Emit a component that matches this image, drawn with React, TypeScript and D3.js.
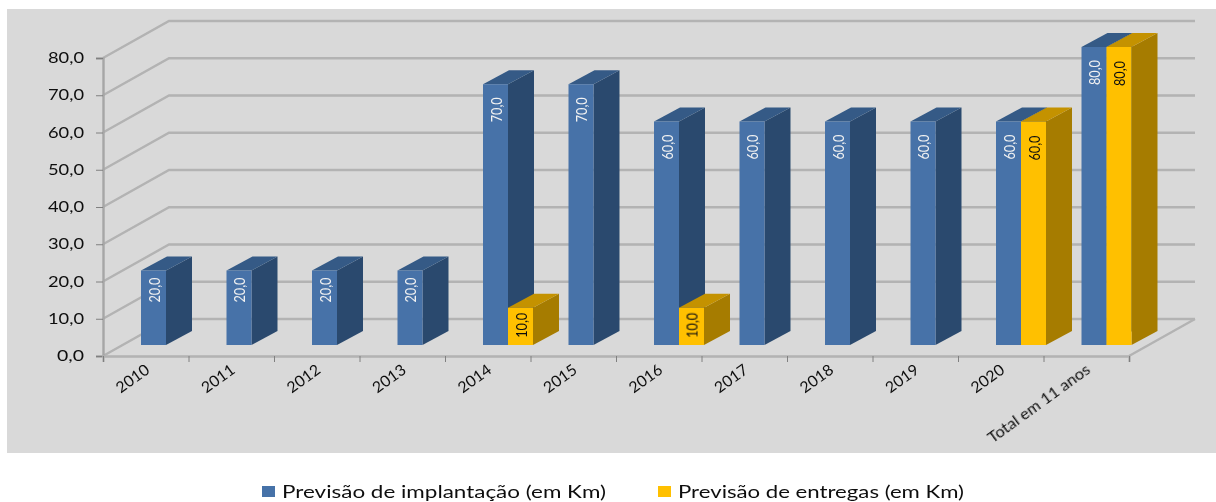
import * as d3 from "d3";
import { useRef, useEffect } from "react";

// chart values
const categories = ["2010", "2011", "2012", "2013", "2014", "2015", "2016", "2017", "2018", "2019", "2020", "Total em 11 anos"];
const implantacao = [20, 20, 20, 20, 70, 70, 60, 60, 60, 60, 60, 80];
const entregas = [null, null, null, null, 10, null, 10, null, null, null, 60, 80];
const yTicks = [0, 10, 20, 30, 40, 50, 60, 70, 80];
const legendLabels = ["Previsão de implantação (em Km)", "Previsão de entregas (em Km)"];

const FONT = "Lato, 'Noto Sans', sans-serif";

export default function App() {
    const svgRef = useRef<SVGSVGElement>(null);

    useEffect(() => {
        const svg = d3.select(svgRef.current);
        svg.selectAll("*").remove();

        // soft edges, the reference is a resampled picture
        const defs = svg.append("defs");
        defs.append("filter").attr("id", "soft").append("feGaussianBlur").attr("stdDeviation", 0.5);
        defs.append("filter").attr("id", "softText").append("feGaussianBlur").attr("stdDeviation", 0.25);

        // background panel
        svg.append("rect").attr("x", 7).attr("y", 9).attr("width", 1209).attr("height", 444).attr("fill", "#d9d9d9");

        const g = svg.append("g").attr("filter", "url(#soft)");
        const labels = svg.append("g").attr("filter", "url(#softText)");

        // scales for the front plane
        const y = d3.scaleLinear().domain([0, 80]).range([356, 58]);
        const x = d3.scaleBand().domain(categories).range([103, 1129]);
        const tickX = d3.scaleLinear().domain([0, categories.length]).range([103, 1129]);
        const series = d3.scaleBand().domain(["a", "b"]).range([38, 88]);

        // depth of the floor and of the bars
        const wallDx = 66, wallDy = 37;
        const barDx = 26, barDy = 14;
        const barInsetY = 11;

        // walls: grid lines run along the side wall then the back wall
        const line = d3.line();
        yTicks.forEach(v => {
            const p = line([[103, y(v)], [103 + wallDx, y(v) - wallDy], [1195, y(v) - wallDy]]);
            g.append("path").attr("d", p).attr("fill", "none").attr("stroke", "#b3b3b3").attr("stroke-width", 2.4);
        });
        g.append("path").attr("d", line([[1129, y(0)], [1129 + wallDx, y(0) - wallDy]]))
            .attr("fill", "none").attr("stroke", "#b3b3b3").attr("stroke-width", 2.4);

        // axes
        const yAxis = g.append("g").attr("transform", "translate(103,0)")
            .call(d3.axisLeft(y).tickValues(yTicks).tickSize(7).tickFormat(() => ""));
        yAxis.selectAll("path").attr("stroke", "#a6a6a6").attr("stroke-width", 2.4);
        yAxis.selectAll("line").attr("stroke", "#808080").attr("stroke-width", 1);

        const xAxis = g.append("g").attr("transform", `translate(0,${y(0)})`)
            .call(d3.axisBottom(tickX).ticks(categories.length).tickSize(6).tickFormat(() => ""));
        xAxis.selectAll("path").attr("stroke", "#b3b3b3").attr("stroke-width", 2.4);
        xAxis.selectAll("line").attr("stroke", "#808080").attr("stroke-width", 1);

        // one 3d bar
        const drawBar = (x0: number, value: number, w: number, front: string, side: string, top: string, labelColor: string, labelDrop: number) => {
            const base = y(0) - barInsetY;
            const h = y(0) - y(value);
            const t = base - h;
            g.append("path").attr("fill", side).attr("d", line([[x0 + w, base], [x0 + w + barDx, base - barDy], [x0 + w + barDx, t - barDy], [x0 + w, t]]) + "Z");
            g.append("path").attr("fill", top).attr("d", line([[x0, t], [x0 + barDx, t - barDy], [x0 + w + barDx, t - barDy], [x0 + w, t]]) + "Z");
            g.append("rect").attr("x", x0).attr("y", t).attr("width", w).attr("height", h).attr("fill", front);
            labels.append("text")
                .attr("transform", `translate(${x0 + w / 2 + 6},${t + labelDrop}) rotate(-90)`)
                .attr("text-anchor", "end").attr("font-family", FONT).attr("font-size", 16)
                .attr("textLength", 25).attr("lengthAdjust", "spacingAndGlyphs")
                .attr("fill", labelColor).text(value.toFixed(1).replace(".", ","));
        };

        categories.forEach((c, i) => {
            const w = series.bandwidth();
            drawBar(x(c) + series("a"), implantacao[i], w, "#4672a8", "#2c4a6e", "#345a86", "#f2f2f2", implantacao[i] === 20 ? 7 : 13);
            if (entregas[i] !== null) {
                drawBar(x(c) + series("b"), entregas[i], w, "#ffc000", "#a67c00", "#c49200", "#111111", entregas[i] === 10 ? 5 : 14);
            }
        });

        // y tick labels
        labels.append("g").selectAll("text").data(yTicks).join("text")
            .attr("x", 84).attr("y", d => y(d) + 5).attr("text-anchor", "end")
            .attr("font-family", FONT).attr("font-size", 15).attr("fill", "#111111")
            .attr("textLength", d => (d === 0 ? 27 : 36)).attr("lengthAdjust", "spacingAndGlyphs")
            .text(d => d.toFixed(1).replace(".", ","));

        // x tick labels
        labels.append("g").selectAll("text").data(categories).join("text")
            .attr("transform", d => `translate(${x(d) + x.bandwidth() / 2 + 5},${y(0) + 16}) rotate(-36)`)
            .attr("text-anchor", "end").attr("font-family", FONT).attr("font-size", 15.5).attr("fill", "#111111")
            .attr("textLength", d => (d.length > 4 ? 122 : 37)).attr("lengthAdjust", "spacingAndGlyphs")
            .text(d => d);

        // legend
        const legendX = [262, 658];
        const legendW = [324, 286];
        const legendColors = ["#4672a8", "#ffc000"];
        const textX = [282, 678];
        legendLabels.forEach((l, i) => {
            svg.append("rect").attr("x", legendX[i]).attr("y", 486).attr("width", 13).attr("height", 11).attr("fill", legendColors[i]);
            labels.append("text").attr("x", textX[i]).attr("y", 498)
                .attr("font-family", FONT).attr("font-size", 17).attr("fill", "#111111")
                .attr("textLength", legendW[i]).attr("lengthAdjust", "spacingAndGlyphs").text(l);
        });
    }, []);

    return (
        <svg ref={svgRef} width={1216} height={502} style={{ position: "absolute", left: 0, top: 0 }} />
    );
}
